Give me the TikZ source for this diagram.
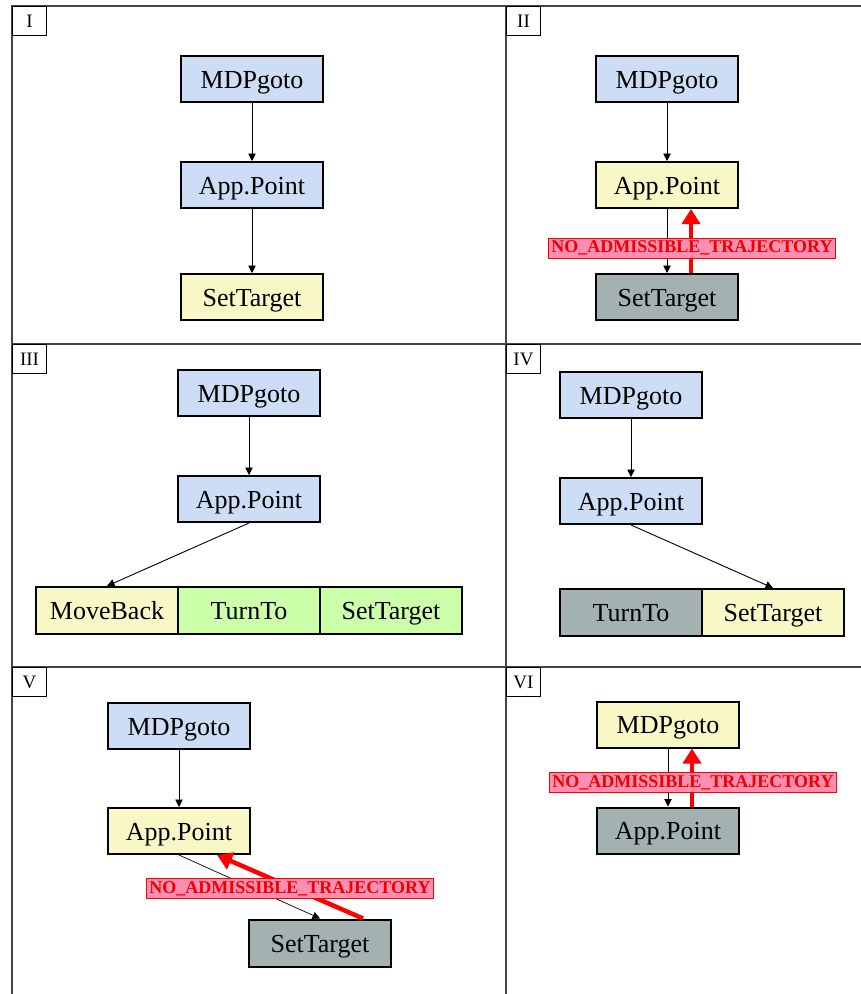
\documentclass[tikz,border=0pt]{standalone}
\usepackage{fontspec}
\setmainfont{Liberation Serif}
\usetikzlibrary{arrows.meta,calc}

\definecolor{bluefill}{HTML}{CCDDF5}
\definecolor{yellowfill}{HTML}{F8F8C6}
\definecolor{grayfill}{HTML}{A3B2B0}
\definecolor{greenfill}{HTML}{CCFFAA}
\definecolor{labelfill}{HTML}{FF8FB0}
\definecolor{labelred}{HTML}{EE0000}
\definecolor{gridline}{HTML}{444444}

\tikzset{
  state/.style={draw=black, line width=2pt, minimum width=142pt, minimum height=46pt,
    inner sep=0pt, text height=22pt, text depth=4pt, font=\fontsize{26}{30}\selectfont},
  blue/.style={state, fill=bluefill},
  yellow/.style={state, fill=yellowfill},
  grey/.style={state, fill=grayfill},
  green/.style={state, fill=greenfill},
  link/.style={draw=black, line width=0.9pt, -{Triangle[width=7.5pt,length=7.5pt]}},
  failarrow/.style={draw=red, line width=4.5pt, -{Triangle[width=18pt,length=15pt]}},
  failtext/.style={draw=red, line width=1pt, fill=labelfill, text=labelred,
    inner xsep=3pt, inner ysep=0pt, minimum height=20pt,
    font=\fontsize{18}{20}\selectfont\bfseries},
  panel/.style={draw=black, line width=1pt, anchor=north west, minimum width=34pt,
    minimum height=29pt, inner sep=2pt, font=\fontsize{19}{21}\selectfont},
  frame/.style={draw=gridline, line width=1.5pt}
}

\begin{document}
\begin{tikzpicture}[x=1pt,y=-1pt]
\useasboundingbox (0,0) rectangle (861,994);
\fill[white] (0,0) rectangle (861,994);

% frame of the six panels
\draw[frame] (12,994) -- (12,6) -- (861,6);
\draw[frame] (506,6) -- (506,994);
\draw[frame] (12,344) -- (861,344);
\draw[frame] (12,667) -- (861,667);

% panel numbers
\node[panel] (p1) at (12,6) {I};
\node[panel] (p2) at (506,6) {II};
\node[panel] (p3) at (12,344) {III};
\node[panel] (p4) at (506,344) {IV};
\node[panel] (p5) at (12,667) {V};
\node[panel] (p6) at (506,667) {VI};

% I
\node[blue] (m1) at (252,79) {MDPgoto};
\node[blue] (a1) at (252,185) {App.Point};
\node[yellow] (s1) at (252,297) {SetTarget};
\draw[link] (m1) -- (a1);
\draw[link] (a1) -- (s1);

% II
\node[blue] (m2) at (667,79) {MDPgoto};
\node[yellow] (a2) at (667,185) {App.Point};
\node[grey] (s2) at (667,297) {SetTarget};
\draw[link] (m2) -- (a2);
\draw[link] (a2) -- (s2);
\draw[failarrow] ($(s2.north)+(24,0)$) -- coordinate (f2) ($(a2.south)+(24,0)$);
\node[failtext] (t2) at ($(f2)+(1,7)$) {NO\_ADMISSIBLE\_TRAJECTORY};

% III
\node[blue] (m3) at (249,393) {MDPgoto};
\node[blue] (a3) at (249,499) {App.Point};
\node[yellow, minimum height=47pt] (b3) at (107,610.5) {MoveBack};
\node[green, minimum height=47pt] (r3) at (249,610.5) {TurnTo};
\node[green, minimum height=47pt] (s3) at (391,610.5) {SetTarget};
\draw[link] (m3) -- (a3);
\draw[link] (a3.south) -- (b3.north);

% IV
\node[blue] (m4) at (631,395) {MDPgoto};
\node[blue] (a4) at (631,501) {App.Point};
\node[grey, minimum height=47pt] (r4) at (631,612.5) {TurnTo};
\node[yellow, minimum height=47pt] (s4) at (773,612.5) {SetTarget};
\draw[link] (m4) -- (a4);
\draw[link] (a4.south) -- (s4.north);

% V
\node[blue] (m5) at (179,726) {MDPgoto};
\node[yellow] (a5) at (179,831) {App.Point};
\node[grey, minimum height=47pt] (s5) at (320,943) {SetTarget};
\draw[link] (m5) -- (a5);
\draw[link, line width=0.7pt] (a5.south) -- (s5.north);
\draw[failarrow] ($(s5.north)+(43,0)$) -- coordinate (f5) ($(a5.south)+(38,0)$);
\node[failtext] (t5) at ($(f5)+(0,2)$) {NO\_ADMISSIBLE\_TRAJECTORY};

% VI
\node[yellow] (m6) at (668,724.5) {MDPgoto};
\node[grey] (a6) at (668,830.5) {App.Point};
\draw[link] (m6) -- (a6);
\draw[failarrow] ($(a6.north)+(24,0)$) -- coordinate (f6) ($(m6.south)+(24,0)$);
\node[failtext] (t6) at ($(f6)+(1,5)$) {NO\_ADMISSIBLE\_TRAJECTORY};
\end{tikzpicture}
\end{document}
